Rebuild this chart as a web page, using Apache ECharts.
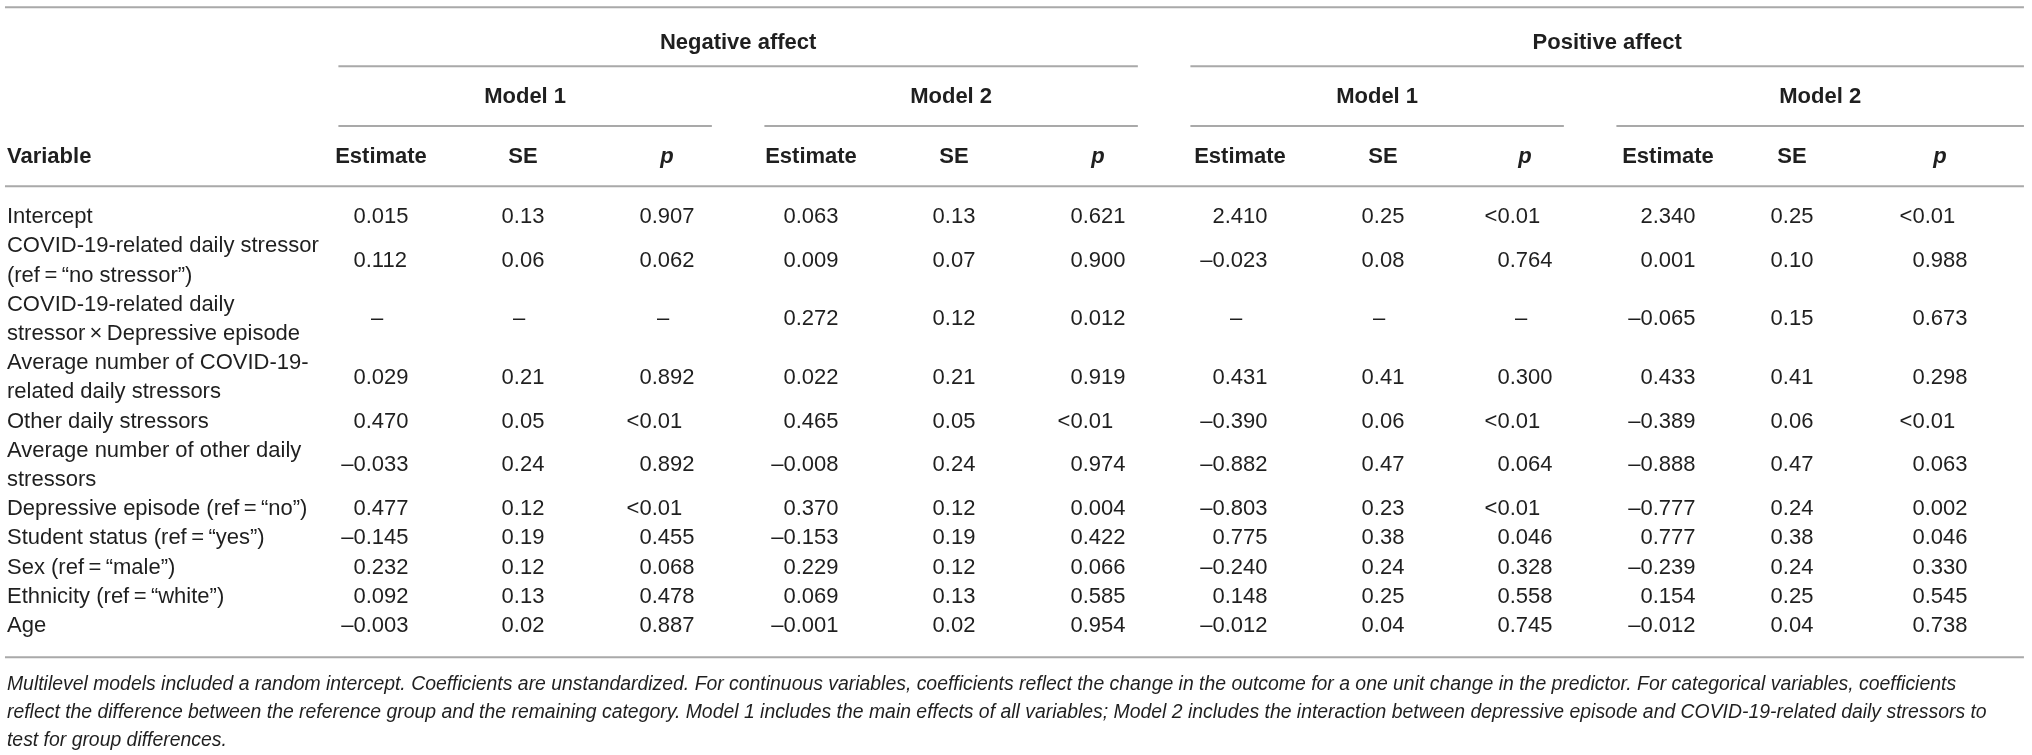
<!DOCTYPE html>
<html lang="en">
  <head>
    <meta charset="UTF-8" />
    <title>Multilevel models of daily affect</title>
    <script src="https://cdn.jsdelivr.net/npm/echarts@6/dist/echarts.min.js"></script>
    <style>
      html,
      body {
        margin: 0;
        padding: 0;
        background: #ffffff;
      }
      #chart {
        width: 2032px;
        height: 755px;
      }
    </style>
  </head>
  <body>
    <div id="chart"></div>
    <script>
      // ---- data ----
      const variables = [
        "Intercept",
        "COVID-19-related daily stressor\n(ref\u2009=\u2009\u201cno stressor\u201d)",
        "COVID-19-related daily\nstressor\u2009\u00d7\u2009Depressive episode",
        "Average number of COVID-19-\nrelated daily stressors",
        "Other daily stressors",
        "Average number of other daily\nstressors",
        "Depressive episode (ref\u2009=\u2009\u201cno\u201d)",
        "Student status (ref\u2009=\u2009\u201cyes\u201d)",
        "Sex (ref\u2009=\u2009\u201cmale\u201d)",
        "Ethnicity (ref\u2009=\u2009\u201cwhite\u201d)",
        "Age",
      ];
      const outcomes = ["Negative affect", "Positive affect"];
      const models = ["Model 1", "Model 2"];
      const statHeads = ["Estimate", "SE", "p"];

      // null = not estimated ("–"); "<0.01" kept as printed
      const negM1Est = [0.015, 0.112, null, 0.029, 0.47, -0.033, 0.477, -0.145, 0.232, 0.092, -0.003];
      const negM1SE = [0.13, 0.06, null, 0.21, 0.05, 0.24, 0.12, 0.19, 0.12, 0.13, 0.02];
      const negM1P = [0.907, 0.062, null, 0.892, "<0.01", 0.892, "<0.01", 0.455, 0.068, 0.478, 0.887];
      const negM2Est = [0.063, 0.009, 0.272, 0.022, 0.465, -0.008, 0.37, -0.153, 0.229, 0.069, -0.001];
      const negM2SE = [0.13, 0.07, 0.12, 0.21, 0.05, 0.24, 0.12, 0.19, 0.12, 0.13, 0.02];
      const negM2P = [0.621, 0.9, 0.012, 0.919, "<0.01", 0.974, 0.004, 0.422, 0.066, 0.585, 0.954];
      const posM1Est = [2.41, -0.023, null, 0.431, -0.39, -0.882, -0.803, 0.775, -0.24, 0.148, -0.012];
      const posM1SE = [0.25, 0.08, null, 0.41, 0.06, 0.47, 0.23, 0.38, 0.24, 0.25, 0.04];
      const posM1P = ["<0.01", 0.764, null, 0.3, "<0.01", 0.064, "<0.01", 0.046, 0.328, 0.558, 0.745];
      const posM2Est = [2.34, 0.001, -0.065, 0.433, -0.389, -0.888, -0.777, 0.777, -0.239, 0.154, -0.012];
      const posM2SE = [0.25, 0.1, 0.15, 0.41, 0.06, 0.47, 0.24, 0.38, 0.24, 0.25, 0.04];
      const posM2P = ["<0.01", 0.988, 0.673, 0.298, "<0.01", 0.063, 0.002, 0.046, 0.33, 0.545, 0.738];

      const noteLines = [
        "Multilevel models included a random intercept. Coefficients are unstandardized. For continuous variables, coefficients reflect the change in the outcome for a one unit change in the predictor. For categorical variables, coefficients",
        "reflect the difference between the reference group and the remaining category. Model 1 includes the main effects of all variables; Model 2 includes the interaction between depressive episode and COVID-19-related daily stressors to",
        "test for group differences.",
      ];

      const columns = [negM1Est, negM1SE, negM1P, negM2Est, negM2SE, negM2P, posM1Est, posM1SE, posM1P, posM2Est, posM2SE, posM2P];

      // ---- layout (axis units: x = column slot, y = text line slot) ----
      const FONT = '"Liberation Sans", Arial, Helvetica, sans-serif';
      const INK = "#1f1f1f";
      const RULE = "#a9a9a9";
      const LABEL_X = -2.134;
      const RULE_L = -2.148;
      const RULE_R = 12.07;
      const Y_TOP_RULE = -6.69;
      const Y_OUTCOME = -5.46;
      const Y_OUTCOME_RULE = -4.67;
      const Y_MODEL = -3.61;
      const Y_MODEL_RULE = -2.62;
      const Y_HEAD = -1.56;
      const Y_HEAD_RULE = -0.56;
      const Y_BOTTOM_RULE = 15.57;
      const NOTE_Y = [16.5, 17.48, 18.44];
      const COL_NUDGE = [0, 0, 2, 4, 5, 7, 7, 8, 8, 9, -9, -3]; // px
      const DEC_SHIFT = [-15.3, -9.2, -15.3]; // decimal point vs column centre, px
      const DASH_SHIFT = -4;

      const fmt = (v, kind) => {
        if (v === null) return null;
        if (typeof v === "string") return v;
        const digits = kind === 1 ? 2 : 3;
        return (v < 0 ? "\u2013" : "") + Math.abs(v).toFixed(digits);
      };

      // row slots
      const rows = [];
      let slot = 0;
      variables.forEach((v) => {
        const n = v.split("\n").length;
        rows.push({ label: v, y: slot + n / 2 });
        slot += n;
      });

      const cells = [];
      columns.forEach((col, ci) => {
        col.forEach((v, ri) => {
          cells.push({ col: ci, y: rows[ri].y, text: fmt(v, ci % 3) });
        });
      });

      // rules: [x1, x2, y]
      const rules = [[RULE_L, RULE_R, Y_TOP_RULE], [RULE_L, RULE_R, Y_HEAD_RULE], [RULE_L, RULE_R, Y_BOTTOM_RULE]];
      const spans = [];
      outcomes.forEach((o, oi) => {
        const a = oi * 6 + 0.2;
        const b = oi === outcomes.length - 1 ? RULE_R : oi * 6 + 6 - 0.17;
        rules.push([a, b, Y_OUTCOME_RULE]);
        spans.push({ text: o, x: (a + b) / 2, y: Y_OUTCOME });
        models.forEach((m, mi) => {
          const k = oi * 2 + mi;
          const c = k * 3 + 0.2;
          const d = k === 3 ? RULE_R : k * 3 + 3 - 0.17;
          rules.push([c, d, Y_MODEL_RULE]);
          spans.push({ text: m, x: (c + d) / 2, y: Y_MODEL });
        });
      });

      const txt = (x, y, s, o) => {
        o = o || {};
        return {
          type: "text",
          x: x,
          y: y,
          silent: true,
          style: {
            text: s,
            fill: INK,
            fontFamily: FONT,
            fontSize: o.size || 22,
            fontWeight: o.weight || "normal",
            fontStyle: o.style || "normal",
            align: o.align || "center",
            verticalAlign: "middle",
            lineHeight: o.lineHeight || 29.2,
          },
        };
      };

      const dom = document.getElementById("chart");
      const myChart = echarts.init(dom);

      const option = {
        animation: false,
        backgroundColor: "#ffffff",
        grid: { left: 310, right: 18, top: 1, bottom: 0.5 },
        xAxis: { type: "value", min: 0, max: 12, show: false },
        yAxis: { type: "value", min: -6.9, max: 18.9, inverse: true, show: false },
        series: [
          // horizontal rules
          {
            type: "custom",
            silent: true,
            data: rules.map((r) => [r[0], r[2]]),
            renderItem: (params, api) => {
              const r = rules[params.dataIndex];
              const p1 = api.coord([r[0], r[2]]);
              const p2 = api.coord([r[1], r[2]]);
              return {
                type: "line",
                shape: { x1: p1[0], y1: p1[1], x2: p2[0], y2: p2[1] },
                style: { stroke: RULE, lineWidth: 2 },
              };
            },
          },
          // outcome and model headers
          {
            type: "custom",
            silent: true,
            data: spans.map((s) => [s.x, s.y]),
            renderItem: (params, api) => {
              const p = api.coord([api.value(0), api.value(1)]);
              return txt(p[0], p[1], spans[params.dataIndex].text, { weight: "bold" });
            },
          },
          // column heads
          {
            type: "custom",
            silent: true,
            data: columns.map((c, i) => [i + 0.5, Y_HEAD]),
            renderItem: (params, api) => {
              const i = params.dataIndex;
              const p = api.coord([api.value(0), api.value(1)]);
              const k = i % 3;
              return txt(p[0] + COL_NUDGE[i], p[1], statHeads[k], {
                weight: "bold",
                style: k === 2 ? "italic" : "normal",
              });
            },
          },
          // variable column
          {
            type: "custom",
            silent: true,
            data: [[LABEL_X, Y_HEAD]].concat(rows.map((r) => [LABEL_X, r.y])),
            renderItem: (params, api) => {
              const p = api.coord([api.value(0), api.value(1)]);
              if (params.dataIndex === 0) return txt(p[0], p[1], "Variable", { weight: "bold", align: "left" });
              return txt(p[0], p[1], rows[params.dataIndex - 1].label, { align: "left" });
            },
          },
          // table cells, aligned on the decimal point
          {
            type: "custom",
            silent: true,
            data: cells.map((c) => [c.col + 0.5, c.y]),
            renderItem: (params, api) => {
              const c = cells[params.dataIndex];
              const p = api.coord([api.value(0), api.value(1)]);
              const cx = p[0] + COL_NUDGE[c.col];
              if (c.text === null) return txt(cx + DASH_SHIFT, p[1], "\u2013");
              const d = cx + DEC_SHIFT[c.col % 3];
              const k = c.text.indexOf(".");
              return {
                type: "group",
                children: [
                  txt(d, p[1], c.text.slice(0, k), { align: "right" }),
                  txt(d, p[1], c.text.slice(k), { align: "left" }),
                ],
              };
            },
          },
          // footnote
          {
            type: "custom",
            silent: true,
            data: noteLines.map((n, i) => [LABEL_X, NOTE_Y[i]]),
            renderItem: (params, api) => {
              const p = api.coord([api.value(0), api.value(1)]);
              return txt(p[0], p[1], noteLines[params.dataIndex], { align: "left", style: "italic", size: 19.4 });
            },
          },
        ],
      };

      myChart.setOption(option);
    </script>
  </body>
</html>
